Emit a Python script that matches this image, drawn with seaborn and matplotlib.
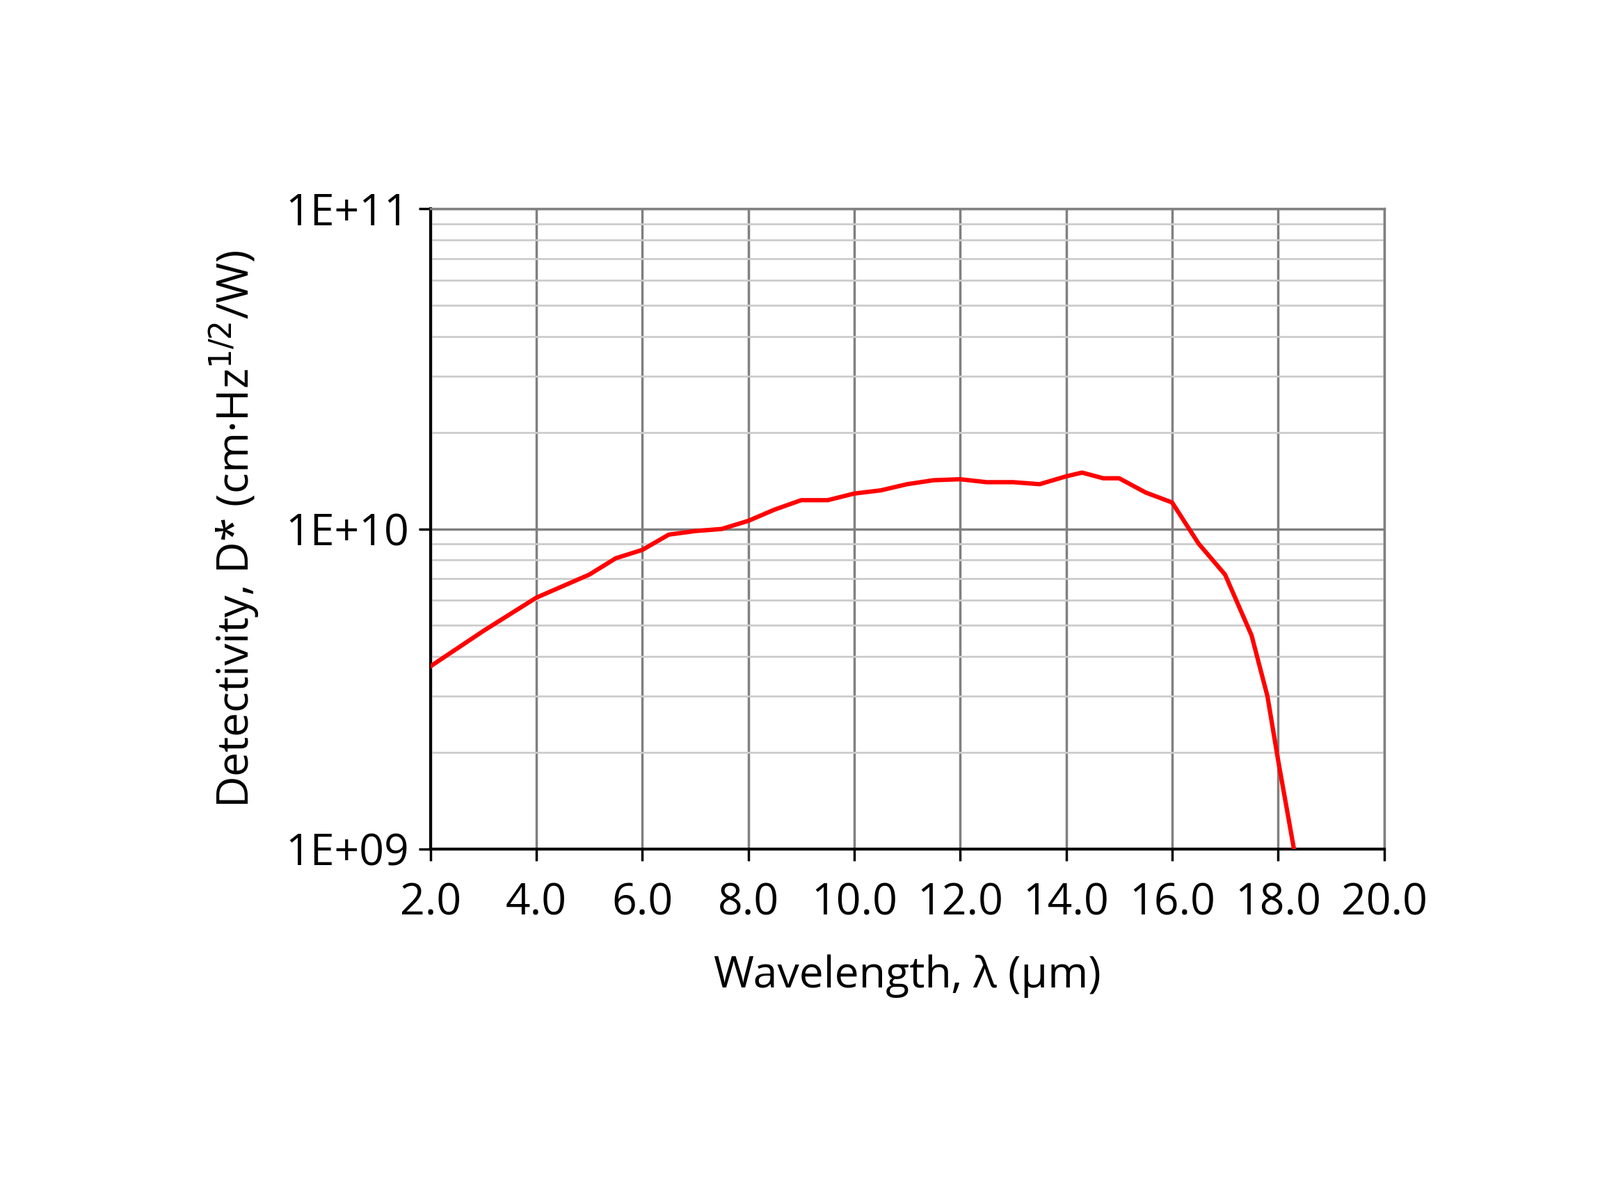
import matplotlib
matplotlib.use("Agg")
import matplotlib.pyplot as plt
import seaborn as sns
import pandas as pd
from matplotlib.ticker import FixedLocator, LogLocator, NullFormatter

wavelength = [2.0, 3.0, 4.0, 5.0, 5.5, 6.0, 6.5, 7.0, 7.5, 8.0, 8.5, 9.0, 9.5, 10.0, 10.5,
              11.0, 11.5, 12.0, 12.5, 13.0, 13.5, 14.0, 14.3, 14.7, 15.0, 15.5, 16.0,
              16.5, 17.0, 17.5, 17.8, 18.0, 18.3]
detectivity = [3.72e9, 4.8e9, 6.1e9, 7.2e9, 8.1e9, 8.6e9, 9.6e9, 9.85e9, 1.0e10, 1.06e10,
               1.15e10, 1.23e10, 1.23e10, 1.29e10, 1.32e10, 1.38e10, 1.42e10, 1.43e10,
               1.40e10, 1.40e10, 1.38e10, 1.46e10, 1.50e10, 1.44e10, 1.44e10, 1.30e10,
               1.21e10, 9.0e9, 7.2e9, 4.65e9, 3.0e9, 1.9e9, 1.0e9]
xticks = [2.0, 4.0, 6.0, 8.0, 10.0, 12.0, 14.0, 16.0, 18.0, 20.0]
yticks = [1e9, 1e10, 1e11]
ytick_labels = ["1E+09", "1E+10", "1E+11"]

df = pd.DataFrame({"wl": wavelength, "d": detectivity})
plt.rcParams["font.family"] = "Open Sans"
fig = plt.figure(figsize=(23, 17.17), dpi=100)
ax = fig.add_axes([0.269, 0.289, 0.596, 0.536])
sns.lineplot(data=df, x="wl", y="d", ax=ax, color="#ff0000", linewidth=4.5, zorder=5)
ax.set_yscale("log")
ax.set_xlim(2, 20)
ax.set_ylim(1e9, 1e11)
ax.xaxis.set_major_locator(FixedLocator(xticks))
ax.set_xticklabels([f"{v:.1f}" for v in xticks])
ax.yaxis.set_major_locator(FixedLocator(yticks))
ax.set_yticklabels(ytick_labels)
ax.yaxis.set_minor_locator(LogLocator(base=10, subs=range(2, 10)))
ax.yaxis.set_minor_formatter(NullFormatter())
ax.grid(True, which="major", color="#808080", linewidth=2.5)
ax.grid(True, which="minor", axis="y", color="#cccccc", linewidth=2)
ax.tick_params(axis="both", which="major", labelsize=45, length=12, width=2.5, pad=10, color="black")
ax.tick_params(axis="x", which="major", pad=22)
ax.tick_params(axis="y", which="minor", length=0)
for s in ["top", "right"]:
    ax.spines[s].set_color("#808080")
    ax.spines[s].set_linewidth(2.5)
for s in ["left", "bottom"]:
    ax.spines[s].set_color("black")
    ax.spines[s].set_linewidth(3)
ax.set_xlabel("Wavelength, λ (µm)", fontsize=45, labelpad=30)
ax.set_ylabel("Detectivity, D* (cm·Hz$^{1/2}$/W)", fontsize=45, labelpad=25)
fig.savefig("out.png", dpi=100, facecolor="white")
